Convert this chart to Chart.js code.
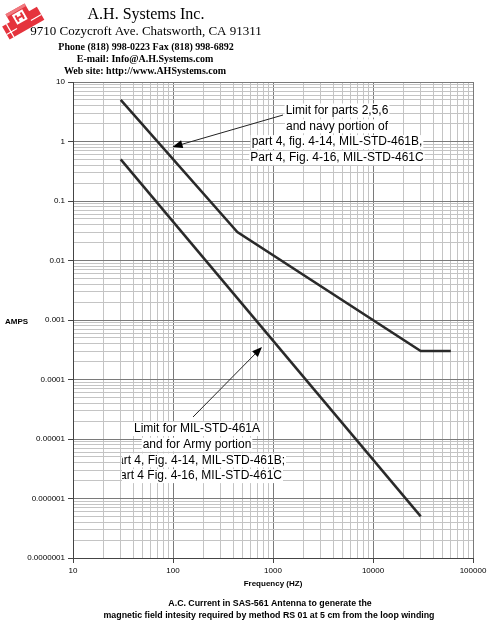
<!DOCTYPE html>
<html>
<head>
<meta charset="utf-8">
<script src="https://cdn.jsdelivr.net/npm/chart.js@4/dist/chart.umd.min.js"></script>
<style>
  html, body { margin: 0; padding: 0; background: #fff; }
  #wrap { position: relative; width: 500px; height: 643px; }
</style>
</head>
<body>
<div id="wrap"><canvas id="rs01Chart" width="500" height="643"></canvas></div>
<script>
// datos (Hz, A)
var frecNavy = [30, 440, 30000, 60000];
var ampNavy = [5, 0.03, 0.0003, 0.0003];
var frecArmy = [30, 30000];
var ampArmy = [0.5, 0.0000005];

var decadasX = [10, 100, 1000, 10000, 100000];
var decadasY = [0.0000001, 0.000001, 0.00001, 0.0001, 0.001, 0.01, 0.1, 1, 10];
var etiquetasY = ['0.0000001', '0.000001', '0.00001', '0.0001', '0.001', '0.01', '0.1', '1', '10'];
var multiplos = [1, 2, 3, 4, 5, 6, 7, 8, 9];

var notaNavy = ['Limit for parts 2,5,6', 'and navy portion of', 'part 4, fig. 4-14, MIL-STD-461B,', 'Part 4, Fig. 4-16, MIL-STD-461C'];
var notaArmy = ['Limit for MIL-STD-461A', 'and for Army portion', 'Part 4, Fig. 4-14, MIL-STD-461B;', 'Part 4 Fig. 4-16, MIL-STD-461C'];

function puntos(xs, ys) {
    return xs.map((x, i) => ({ x: x, y: ys[i] }));
}

function ticksLog(decadas) {
    var t = [];
    decadas.forEach((d, i) => {
        if (i === decadas.length - 1) { t.push({ value: d }); return; }
        multiplos.forEach(m => t.push({ value: +(d * m).toPrecision(3) }));
    });
    return t;
}

function esDecada(v) {
    var l = Math.log10(v);
    return Math.abs(l - Math.round(l)) < 1e-6;
}

function flecha(ctx, x1, y1, x2, y2) {
    var ang = Math.atan2(y2 - y1, x2 - x1);
    ctx.strokeStyle = '#222';
    ctx.fillStyle = '#000';
    ctx.lineWidth = 1;
    ctx.beginPath();
    ctx.moveTo(x1, y1);
    ctx.lineTo(x2 - 8 * Math.cos(ang), y2 - 8 * Math.sin(ang));
    ctx.stroke();
    ctx.beginPath();
    ctx.moveTo(x2, y2);
    ctx.lineTo(x2 - 10 * Math.cos(ang) + 4 * Math.sin(ang), y2 - 10 * Math.sin(ang) - 4 * Math.cos(ang));
    ctx.lineTo(x2 - 10 * Math.cos(ang) - 4 * Math.sin(ang), y2 - 10 * Math.sin(ang) + 4 * Math.cos(ang));
    ctx.closePath();
    ctx.fill();
}

function nota(ctx, lineas, cx, y0, paso, clipIzq) {
    ctx.save();
    if (clipIzq) {
        ctx.beginPath();
        ctx.rect(clipIzq, 0, 500, 643);
        ctx.clip();
    }
    ctx.font = '12px "Liberation Sans", Arial, sans-serif';
    ctx.textAlign = 'center';
    ctx.textBaseline = 'middle';
    lineas.forEach((l, i) => {
        var w = ctx.measureText(l).width;
        var y = y0 + i * paso;
        ctx.fillStyle = '#fff';
        ctx.fillRect(cx - w / 2 - 1, y - 7, w + 2, 14);
        ctx.fillStyle = '#000';
        ctx.fillText(l, cx, y);
    });
    ctx.restore();
}

function logo(ctx) {
    ctx.save();
    ctx.translate(22, 21);
    ctx.rotate(-0.52);
    // bloque rojo principal
    ctx.fillStyle = '#e5333d';
    ctx.fillRect(-20, -5, 40, 15);
    ctx.fillRect(-11, -14, 22, 10);
    ctx.fillStyle = '#f07a80';
    ctx.fillRect(-11, -14, 22, 3);
    // letra blanca
    ctx.fillStyle = '#fff';
    ctx.fillRect(-6, -10, 12, 11);
    ctx.fillStyle = '#e5333d';
    ctx.fillRect(-4, -8, 2, 7);
    ctx.fillRect(2, -8, 2, 7);
    ctx.fillRect(-4, -5.5, 8, 2);
    ctx.strokeStyle = '#fff';
    ctx.lineWidth = 1.2;
    ctx.beginPath();
    ctx.moveTo(-20, 4); ctx.lineTo(-8, 4);
    ctx.moveTo(8, 4); ctx.lineTo(20, 4);
    ctx.moveTo(-15, -5); ctx.lineTo(-15, 10);
    ctx.stroke();
    ctx.restore();
}

var textosPlugin = {
    id: 'textos',
    afterDatasetsDraw(chart) {
        var ctx = chart.ctx;
        var xs = chart.scales.x;
        // notas y flechas
        nota(ctx, notaNavy, 337, 110.5, 15.8, null);
        flecha(ctx, 283, 115, xs.getPixelForValue(99), 147);
        nota(ctx, notaArmy, 197, 429, 15.7, 122);
        flecha(ctx, 193, 417, 262, 347);
    },
    afterDraw(chart) {
        var ctx = chart.ctx;
        ctx.save();
        logo(ctx);
        ctx.fillStyle = '#000';
        ctx.textAlign = 'center';
        ctx.textBaseline = 'middle';
        ctx.font = '16px "Liberation Serif", "Times New Roman", serif';
        ctx.fillText('A.H. Systems Inc.', 146, 15);
        ctx.font = '13px "Liberation Serif", "Times New Roman", serif';
        ctx.fillText('9710 Cozycroft Ave. Chatsworth, CA 91311', 146, 32);
        ctx.font = 'bold 10px "Liberation Serif", "Times New Roman", serif';
        ctx.fillText('Phone (818) 998-0223 Fax (818) 998-6892', 146, 47);
        ctx.fillText('E-mail: Info@A.H.Systems.com', 145, 59);
        ctx.fillText('Web site: http://www.AHSystems.com', 145, 71);

        ctx.font = 'bold 8px "Liberation Sans", Arial, sans-serif';
        ctx.textAlign = 'left';
        ctx.fillText('AMPS', 5, 322);
        ctx.textAlign = 'center';
        ctx.fillText('Frequency (HZ)', 273, 584);
        ctx.font = 'bold 8.8px "Liberation Sans", Arial, sans-serif';
        ctx.fillText('A.C. Current in SAS-561 Antenna to generate the', 270, 604);
        ctx.fillText('magnetic field intesity required by method RS 01 at 5 cm from the loop winding', 269, 616);
        ctx.restore();
    }
};

var ctx = document.getElementById('rs01Chart').getContext('2d');

var chart = new Chart(ctx, {
    type: 'line',
    data: {
        datasets: [{
            label: 'Navy',
            data: puntos(frecNavy, ampNavy),
            borderColor: '#2a2a2a',
            borderWidth: 2.5,
            pointRadius: 0,
            tension: 0
        }, {
            label: 'Army',
            data: puntos(frecArmy, ampArmy),
            borderColor: '#2a2a2a',
            borderWidth: 2.5,
            pointRadius: 0,
            tension: 0
        }]
    },
    options: {
        responsive: false,
        animation: false,
        layout: {
            padding: { left: 0, top: 82, right: 27, bottom: 60 }
        },
        scales: {
            x: {
                type: 'logarithmic',
                min: 10,
                max: 100000,
                afterBuildTicks: s => { s.ticks = ticksLog(decadasX); },
                afterFit: s => { s.height = 25; s.paddingLeft = 0; s.paddingRight = 0; },
                border: { display: true, color: '#444', width: 1 },
                grid: {
                    color: c => esDecada(c.tick.value) ? '#7a7a7a' : '#c4c4c4',
                    tickColor: c => esDecada(c.tick.value) ? '#444' : 'rgba(0,0,0,0)',
                    tickLength: 5
                },
                ticks: {
                    autoSkip: false,
                    maxRotation: 0,
                    padding: 3,
                    color: '#000',
                    font: { family: '"Liberation Sans", Arial, sans-serif', size: 8 },
                    callback: function (value) {
                        return esDecada(value) ? String(value) : '';
                    }
                }
            },
            y: {
                type: 'logarithmic',
                min: 0.0000001,
                max: 10,
                afterBuildTicks: s => { s.ticks = ticksLog(decadasY); },
                afterFit: s => { s.width = 73; s.paddingTop = 0; s.paddingBottom = 0; },
                border: { display: true, color: '#444', width: 1 },
                grid: {
                    color: c => esDecada(c.tick.value) ? '#7a7a7a' : '#c4c4c4',
                    tickColor: c => esDecada(c.tick.value) ? '#444' : 'rgba(0,0,0,0)',
                    tickLength: 5
                },
                ticks: {
                    autoSkip: false,
                    padding: 3,
                    color: '#000',
                    font: { family: '"Liberation Sans", Arial, sans-serif', size: 8 },
                    callback: function (value) {
                        if (!esDecada(value)) return '';
                        var i = decadasY.findIndex(d => Math.abs(Math.log10(d) - Math.log10(value)) < 1e-6);
                        return etiquetasY[i];
                    }
                }
            }
        },
        plugins: {
            legend: { display: false },
            tooltip: { enabled: false }
        }
    },
    plugins: [textosPlugin]
});
</script>
</body>
</html>
